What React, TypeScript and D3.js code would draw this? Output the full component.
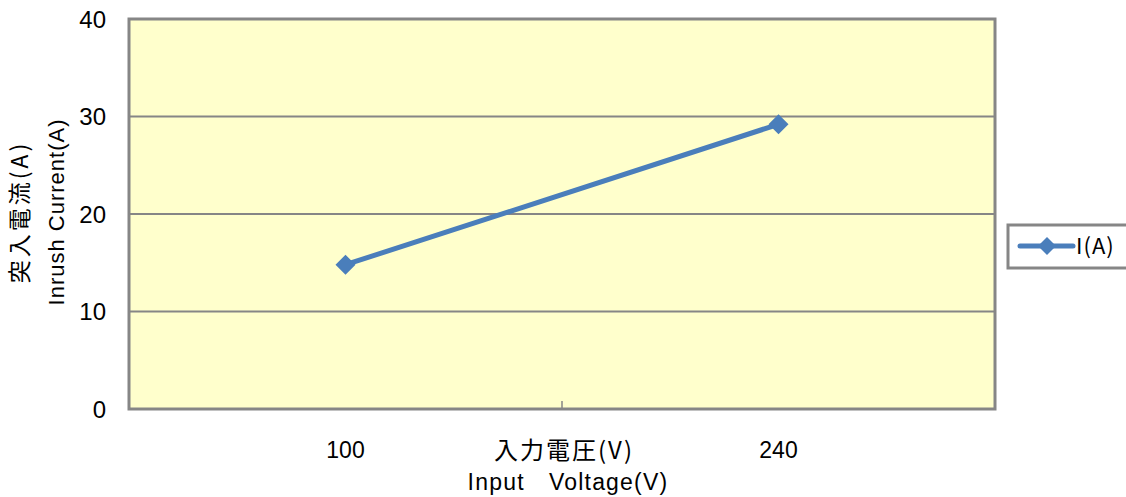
import React from "react";
import * as d3 from "d3";

const categories = ["100", "240"];
const seriesName = "I(A)";
const values = [14.8, 29.2];
const yTicks = [0, 10, 20, 30, 40];
const yTitle = ["突入電流(A)", "Inrush Current(A)"];
const xTitle = ["入力電圧(V)", "Input\u2003Voltage(V)"];

const W = 1126;
const H = 497;
const plot = { left: 129, top: 19, right: 995, bottom: 409 };

export default function App() {
  const x = d3
    .scaleBand<string>()
    .domain(categories)
    .range([plot.left, plot.right])
    .paddingInner(0)
    .paddingOuter(0);
  const y = d3.scaleLinear().domain([0, 40]).range([plot.bottom, plot.top]);
  const cx = (c: string) => (x(c) as number) + x.bandwidth() / 2;

  const line = d3
    .line<number>()
    .x((_, i) => cx(categories[i]))
    .y((d) => y(d));

  const diamond = (px: number, py: number, r: number) =>
    `M${px},${py - r}L${px + r},${py}L${px},${py + r}L${px - r},${py}Z`;

  const blue = "#4a7ebb";
  const gray = "#868686";
  const numFont = "'Liberation Sans', Arial, sans-serif";
  const jpFont = "'Noto Sans CJK JP', sans-serif";

  const midY = (plot.top + plot.bottom) / 2;
  const boundary = x(categories[1]) as number;

  return (
    <svg
      width={W}
      height={H}
      style={{ position: "absolute", left: 0, top: 0, background: "#fff" }}
    >
      <rect
        x={plot.left}
        y={plot.top}
        width={plot.right - plot.left}
        height={plot.bottom - plot.top}
        fill="#ffffcc"
      />
      {yTicks
        .filter((t) => t !== 0 && t !== 40)
        .map((t) => (
          <line
            key={t}
            x1={plot.left}
            x2={plot.right}
            y1={y(t)}
            y2={y(t)}
            stroke={gray}
            strokeWidth={2}
          />
        ))}
      <rect
        x={plot.left}
        y={plot.top}
        width={plot.right - plot.left}
        height={plot.bottom - plot.top}
        fill="none"
        stroke={gray}
        strokeWidth={3}
      />
      <line
        x1={boundary}
        x2={boundary}
        y1={plot.bottom}
        y2={plot.bottom - 8}
        stroke={gray}
        strokeWidth={1.5}
      />
      {yTicks.map((t) => (
        <text
          key={t}
          x={106}
          y={y(t)}
          dy="0.36em"
          textAnchor="end"
          fontFamily={numFont}
          fontSize={24}
          fill="#000"
        >
          {t}
        </text>
      ))}
      {categories.map((c) => (
        <text
          key={c}
          x={cx(c)}
          y={458}
          textAnchor="middle"
          fontFamily={numFont}
          fontSize={23}
          fill="#000"
        >
          {c}
        </text>
      ))}
      <text
        x={564}
        y={459}
        textAnchor="middle"
        fontFamily={jpFont}
        fontSize={24}
        letterSpacing={2}
        fill="#000"
      >
        {xTitle[0]}
      </text>
      <text
        x={568}
        y={490}
        textAnchor="middle"
        fontFamily={numFont}
        fontSize={23}
        letterSpacing={1.2}
        fill="#000"
      >
        {xTitle[1]}
      </text>
      <text
        transform={`translate(28,${midY - 2}) rotate(-90)`}
        textAnchor="middle"
        fontFamily={jpFont}
        fontSize={23}
        letterSpacing={3}
        fill="#000"
      >
        {yTitle[0]}
      </text>
      <text
        transform={`translate(64,${midY - 2}) rotate(-90)`}
        textAnchor="middle"
        fontFamily={numFont}
        fontSize={22}
        letterSpacing={1}
        fill="#000"
      >
        {yTitle[1]}
      </text>
      <path
        d={line(values) || ""}
        fill="none"
        stroke={blue}
        strokeWidth={5}
        strokeLinejoin="round"
        strokeLinecap="round"
      />
      {values.map((v, i) => (
        <path key={i} d={diamond(cx(categories[i]), y(v), 10)} fill={blue} />
      ))}
      <rect
        x={1008}
        y={225}
        width={130}
        height={43}
        fill="#fff"
        stroke={gray}
        strokeWidth={3}
      />
      <line
        x1={1020}
        x2={1073}
        y1={246}
        y2={246}
        stroke={blue}
        strokeWidth={5}
        strokeLinecap="round"
      />
      <path d={diamond(1047, 246, 9)} fill={blue} />
      <text
        x={1076}
        y={246}
        dy="0.36em"
        fontFamily={jpFont}
        fontSize={22}
        letterSpacing={1}
        fill="#000"
      >
        {seriesName}
      </text>
    </svg>
  );
}
